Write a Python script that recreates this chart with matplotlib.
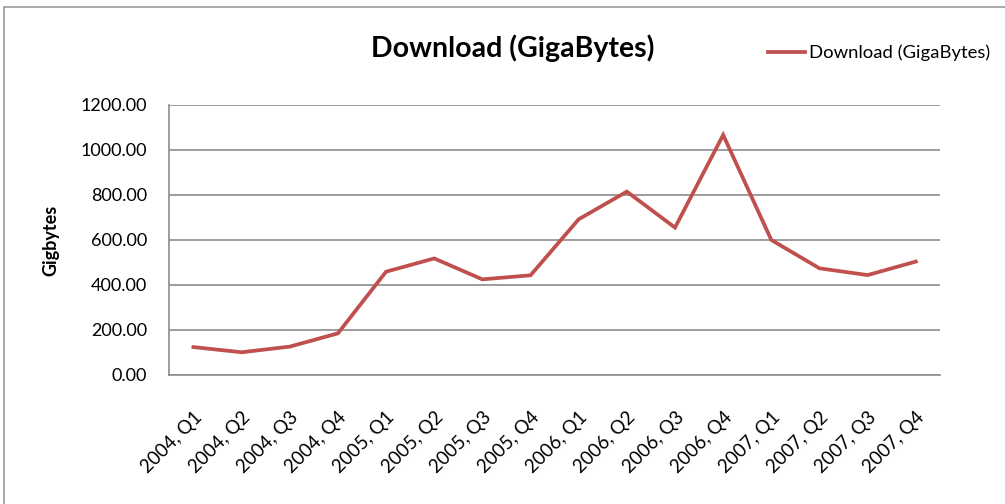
import matplotlib
matplotlib.use('Agg')
import matplotlib.pyplot as plt
from matplotlib.patches import Rectangle

quarters = ["2004, Q1", "2004, Q2", "2004, Q3", "2004, Q4",
            "2005, Q1", "2005, Q2", "2005, Q3", "2005, Q4",
            "2006, Q1", "2006, Q2", "2006, Q3", "2006, Q4",
            "2007, Q1", "2007, Q2", "2007, Q3", "2007, Q4"]
download_gb = [124, 101, 126, 185, 459, 518, 425, 443,
               692, 815, 655, 1067, 600, 474, 444, 504]
y_ticks = [0, 200, 400, 600, 800, 1000, 1200]

plt.rcParams["font.family"] = ["Lato", "DejaVu Sans"]

fig = plt.figure(figsize=(10.05, 5.04), dpi=100)
fig.patches.append(Rectangle((4 / 1005, -0.1), 1.2, (504 - 7) / 504 + 0.1,
                             transform=fig.transFigure, fill=False,
                             edgecolor="#9a9a9a", linewidth=1.2))

ax = fig.add_axes([0.1685, 0.256, 0.7667, 0.5357])
ax.plot(range(len(quarters)), download_gb, color="#C0504D", linewidth=2.7,
        solid_joinstyle="miter", label="Download (GigaBytes)")

ax.set_xlim(-0.5, len(quarters) - 0.5)
ax.set_ylim(0, 1200)
ax.set_yticks(y_ticks)
ax.set_yticklabels(["%.2f" % v for v in y_ticks], fontsize=13)
ax.set_xticks(range(len(quarters)))
ax.set_xticklabels(quarters, rotation=45, ha="right", rotation_mode="anchor",
                   fontsize=13.5)
ax.tick_params(axis="y", length=0, pad=16)
ax.tick_params(axis="x", length=0, pad=24)
ax.yaxis.grid(True, color="#8c8c8c", linewidth=1.2)
ax.set_axisbelow(True)
for s in ["top", "right"]:
    ax.spines[s].set_visible(False)
ax.spines["left"].set_color("#8c8c8c")
ax.spines["bottom"].set_color("#8c8c8c")
ax.spines["left"].set_linewidth(1.2)
ax.spines["bottom"].set_linewidth(1.2)

ax.set_ylabel("Gigbytes", fontsize=13, fontweight="bold", labelpad=15)

fig.text(0.510, 0.905, "Download (GigaBytes)", fontsize=20.5, fontweight="bold",
         ha="center", va="center")
fig.legend(loc="center left", bbox_to_anchor=(0.748, 0.895), frameon=False,
           fontsize=13.3, handlelength=2.0, handletextpad=0.2)

fig.savefig("out.png", dpi=100)
plt.close()
